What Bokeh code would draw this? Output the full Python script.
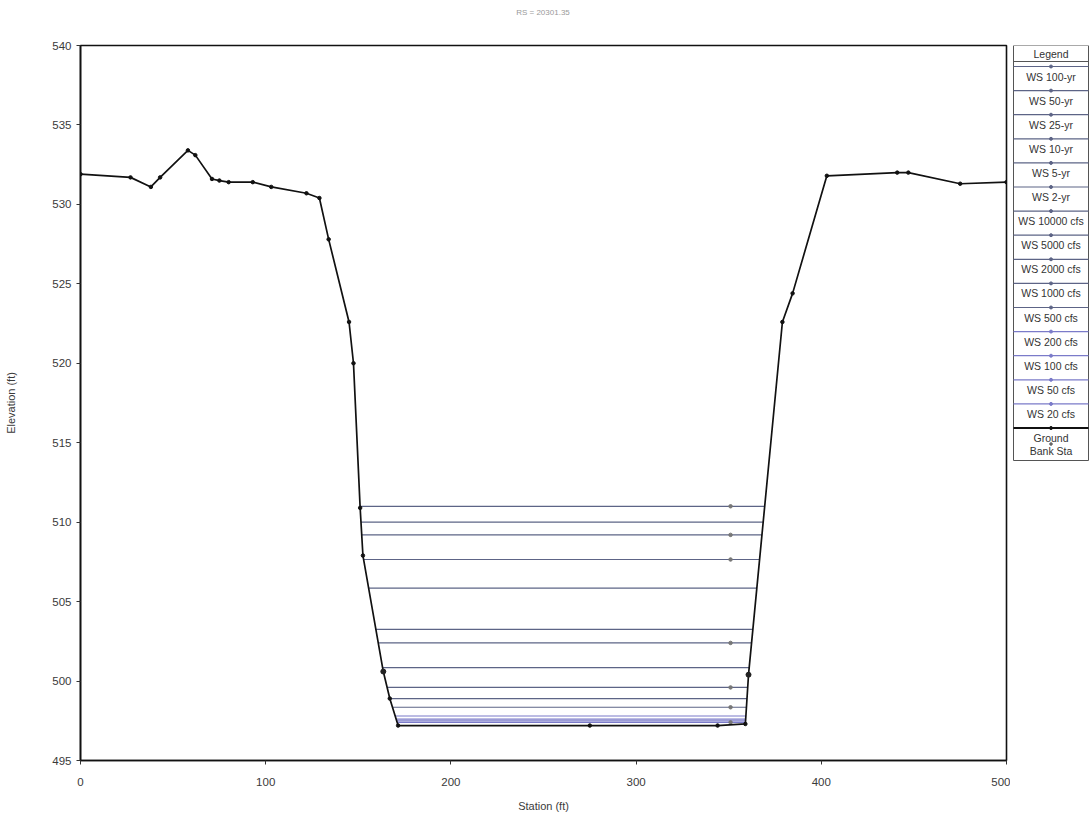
import numpy as np
from bokeh.plotting import figure
from bokeh.models import Range1d, FixedTicker, Div
from bokeh.layouts import row, column
from bokeh.core.properties import value
from bokeh.embed import file_html
from bokeh.resources import INLINE

# Cross-section RS 20301.35: ground profile (station ft, elevation ft)
ground_sta = [0, 27, 38, 43, 58, 62, 71, 75, 80, 93, 103, 122, 129, 134, 145, 147.4,
              151, 152.5, 163.5, 167, 171.5, 275, 344, 359, 360.7, 379, 384.5, 403,
              441, 447, 475, 500]
ground_elev = [531.9, 531.7, 531.1, 531.7, 533.4, 533.1, 531.6, 531.5, 531.4, 531.4,
               531.1, 530.7, 530.4, 527.8, 522.6, 520.0, 510.9, 507.9, 500.6, 498.9,
               497.2, 497.2, 497.2, 497.3, 500.4, 522.6, 524.4, 531.8, 532.0, 532.0,
               531.3, 531.4]

# Bank stations (ft)
bank_sta = [163.5, 360.7]

# Water-surface profiles
ws_labels = ["WS 100-yr", "WS 50-yr", "WS 25-yr", "WS 10-yr", "WS 5-yr", "WS 2-yr",
             "WS 10000 cfs", "WS 5000 cfs", "WS 2000 cfs", "WS 1000 cfs", "WS 500 cfs",
             "WS 200 cfs", "WS 100 cfs", "WS 50 cfs", "WS 20 cfs"]
ws_elev = [511.0, 510.0, 509.2, 507.65, 505.85, 503.25, 502.4, 500.85, 499.6, 498.9,
           498.35, 497.8, 497.6, 497.5, 497.4]
ws_marked = [True, False, True, True, False, False, True, False, True, False, True,
             False, False, False, True]
ws_marker_sta = 351

x_ticks = [0, 100, 200, 300, 400, 500]
y_ticks = [495, 500, 505, 510, 515, 520, 525, 530, 535, 540]

title_text = "RS = 20301.35"

FONT = "Liberation Sans"
HEAD = 26                       # height of the title strip
TOP, BOTTOM, LEFT = 45, 60, 80  # frame edges on the page
FIG_H = 820 - HEAD

sta = np.array(ground_sta, dtype=float)
elv = np.array(ground_elev, dtype=float)

# channel walls used to clip each water surface to the ground
i_lo = int(np.argmin(elv[:25]))           # left toe of channel
left_sta, left_elv = sta[12:i_lo + 1], elv[12:i_lo + 1]
i_r0 = 23
right_sta, right_elv = sta[i_r0:28], elv[i_r0:28]


def ws_extent(z):
    xl = np.interp(z, left_elv[::-1], left_sta[::-1])
    xr = np.interp(z, right_elv, right_sta)
    return xl, xr


def ws_color(i):
    return "#5d6486" if i < 11 else "#7b7bc9"


title_div = Div(
    text=(f'<div style="width:1086px;text-align:center;font-family:\'{FONT}\';'
          f'font-size:8px;color:#9a9a9a;line-height:{HEAD}px;">{title_text}</div>'),
    width=1086, height=HEAD, margin=0)

p = figure(width=1010, height=FIG_H, x_range=Range1d(0, 500), y_range=Range1d(495, 540),
           output_backend="svg", toolbar_location=None,
           min_border_left=LEFT, min_border_right=4, min_border_top=TOP - HEAD,
           min_border_bottom=BOTTOM)

p.grid.visible = False
p.outline_line_color = "#111111"
p.outline_line_width = 1.6
p.background_fill_color = "white"
p.border_fill_color = "white"

for ax in (p.xaxis, p.yaxis):
    ax.axis_line_color = "#111111"
    ax.axis_line_width = 1.6
    ax.major_tick_line_color = "#333333"
    ax.major_tick_out = 4
    ax.major_tick_in = 0
    ax.minor_tick_line_color = None
    ax.major_label_text_font = FONT
    ax.major_label_text_font_size = "11.5px"
    ax.major_label_text_color = "#3a3a3a"
    ax.axis_label_text_font = FONT
    ax.axis_label_text_font_size = "11px"
    ax.axis_label_text_font_style = "normal"
    ax.axis_label_text_color = "#3a3a3a"

p.xaxis.ticker = FixedTicker(ticks=x_ticks)
p.yaxis.ticker = FixedTicker(ticks=y_ticks)
p.xaxis.axis_label = "Station (ft)"
p.yaxis.axis_label = "Elevation (ft)"
p.xaxis.major_label_standoff = 13
p.xaxis.axis_label_standoff = 11
p.yaxis.axis_label_standoff = 32

# water surfaces
for i, z in enumerate(ws_elev):
    xl, xr = ws_extent(z)
    p.line([xl, xr], [z, z], line_color=ws_color(i), line_width=1.2)
    if ws_marked[i]:
        p.scatter([ws_marker_sta], [z], size=3.5, color="#777777")

# ground
p.line(ground_sta, ground_elev, line_color="#111111", line_width=1.7)
p.scatter(ground_sta, ground_elev, size=3.5, color="#111111")

# bank stations
bank_elev = np.interp(bank_sta, sta, elv)
p.scatter(bank_sta, bank_elev, size=5, color="#222222")

# ---- legend panel (page-pixel coordinates, frame shares the plot's top/bottom) ----
leg = figure(width=79, height=FIG_H, x_range=Range1d(0, 79),
             y_range=Range1d(820 - BOTTOM, TOP),
             output_backend="svg", toolbar_location=None,
             min_border_left=0, min_border_right=0,
             min_border_top=TOP - HEAD, min_border_bottom=BOTTOM)
leg.axis.visible = False
leg.grid.visible = False
leg.outline_line_color = None
leg.background_fill_color = "white"
leg.border_fill_color = "white"

box_l, box_r, box_t, box_b = 3, 78, 45, 460
cx = (box_l + box_r) / 2
row_h = 24.1
first_line = 66.0
entries = ws_labels + ["Ground"]
n = len(entries)
TXT = dict(text_font=value(FONT), text_font_size="10.5px", text_align="center",
           text_baseline="middle", text_color="#333333")

leg.quad(left=[box_l], right=[box_r], top=[box_t], bottom=[box_b],
         fill_color=None, line_color="#555555", line_width=1)
leg.segment([box_l], [61], [box_r], [61], line_color="#555555", line_width=1)
leg.text([cx], [53], text=["Legend"], **TXT)

for k, lab in enumerate(entries):
    yl = first_line + k * row_h
    if k < len(ws_labels):
        col, lw = ws_color(k), 1.2
    else:
        col, lw = "#111111", 2
    leg.segment([box_l], [yl], [box_r], [yl], line_color=col, line_width=lw)
    leg.scatter([cx], [yl], size=3, color=col)
    leg.text([cx], [yl + 10], text=[lab], **TXT)

yb = first_line + (n - 1) * row_h
leg.scatter([cx], [yb + 16], size=4, marker="cross", color="#333333")
leg.text([cx], [yb + 23], text=["Bank Sta"], **TXT)

layout = column(title_div, row(p, leg))
open("out.html", "w").write(file_html(layout, INLINE))
